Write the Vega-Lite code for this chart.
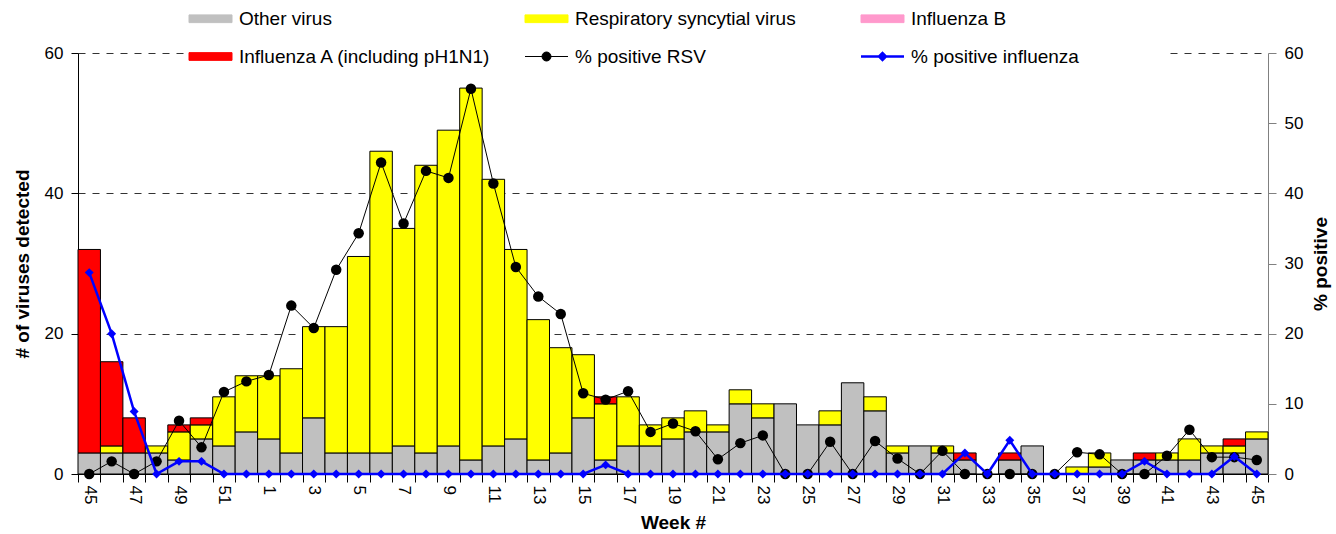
{
  "$schema": "https://vega.github.io/schema/vega-lite/v6.json",
  "width": 1190,
  "height": 421,
  "autosize": {"type": "none"},
  "padding": {"left": 78, "top": 53, "right": 68, "bottom": 60},
  "background": "white",
  "config": {
    "font": "Liberation Sans",
    "view": {"stroke": null},
    "axis": {"labelColor": "black", "titleColor": "black", "labelFont": "Liberation Sans", "titleFont": "Liberation Sans"}
  },
  "datasets": {
    "stackOrder": [
      {"series": "Other virus", "ord": 0},
      {"series": "Respiratory syncytial virus", "ord": 1},
      {"series": "Influenza B", "ord": 2},
      {"series": "Influenza A (including pH1N1)", "ord": 3}
    ]
  },
  "data": {
    "values": [
      {"week": "2009-45", "Other virus": 3, "Respiratory syncytial virus": 0, "Influenza B": 0, "Influenza A (including pH1N1)": 29, "% positive RSV": 0, "% positive influenza": 28.7},
      {"week": "2009-46", "Other virus": 3, "Respiratory syncytial virus": 1, "Influenza B": 0, "Influenza A (including pH1N1)": 12, "% positive RSV": 1.8, "% positive influenza": 20},
      {"week": "2009-47", "Other virus": 3, "Respiratory syncytial virus": 0, "Influenza B": 0, "Influenza A (including pH1N1)": 5, "% positive RSV": 0, "% positive influenza": 8.9},
      {"week": "2009-48", "Other virus": 3, "Respiratory syncytial virus": 1, "Influenza B": 0, "Influenza A (including pH1N1)": 0, "% positive RSV": 1.8, "% positive influenza": 0},
      {"week": "2009-49", "Other virus": 2, "Respiratory syncytial virus": 4, "Influenza B": 0, "Influenza A (including pH1N1)": 1, "% positive RSV": 7.6, "% positive influenza": 1.8},
      {"week": "2009-50", "Other virus": 5, "Respiratory syncytial virus": 2, "Influenza B": 0, "Influenza A (including pH1N1)": 1, "% positive RSV": 3.8, "% positive influenza": 1.8},
      {"week": "2009-51", "Other virus": 4, "Respiratory syncytial virus": 7, "Influenza B": 0, "Influenza A (including pH1N1)": 0, "% positive RSV": 11.7, "% positive influenza": 0},
      {"week": "2009-52", "Other virus": 6, "Respiratory syncytial virus": 8, "Influenza B": 0, "Influenza A (including pH1N1)": 0, "% positive RSV": 13.2, "% positive influenza": 0},
      {"week": "2010-1", "Other virus": 5, "Respiratory syncytial virus": 9, "Influenza B": 0, "Influenza A (including pH1N1)": 0, "% positive RSV": 14.1, "% positive influenza": 0},
      {"week": "2010-2", "Other virus": 3, "Respiratory syncytial virus": 12, "Influenza B": 0, "Influenza A (including pH1N1)": 0, "% positive RSV": 24.0, "% positive influenza": 0},
      {"week": "2010-3", "Other virus": 8, "Respiratory syncytial virus": 13, "Influenza B": 0, "Influenza A (including pH1N1)": 0, "% positive RSV": 20.8, "% positive influenza": 0},
      {"week": "2010-4", "Other virus": 3, "Respiratory syncytial virus": 18, "Influenza B": 0, "Influenza A (including pH1N1)": 0, "% positive RSV": 29.1, "% positive influenza": 0},
      {"week": "2010-5", "Other virus": 3, "Respiratory syncytial virus": 28, "Influenza B": 0, "Influenza A (including pH1N1)": 0, "% positive RSV": 34.3, "% positive influenza": 0},
      {"week": "2010-6", "Other virus": 3, "Respiratory syncytial virus": 43, "Influenza B": 0, "Influenza A (including pH1N1)": 0, "% positive RSV": 44.4, "% positive influenza": 0},
      {"week": "2010-7", "Other virus": 4, "Respiratory syncytial virus": 31, "Influenza B": 0, "Influenza A (including pH1N1)": 0, "% positive RSV": 35.7, "% positive influenza": 0},
      {"week": "2010-8", "Other virus": 3, "Respiratory syncytial virus": 41, "Influenza B": 0, "Influenza A (including pH1N1)": 0, "% positive RSV": 43.2, "% positive influenza": 0},
      {"week": "2010-9", "Other virus": 4, "Respiratory syncytial virus": 45, "Influenza B": 0, "Influenza A (including pH1N1)": 0, "% positive RSV": 42.2, "% positive influenza": 0},
      {"week": "2010-10", "Other virus": 2, "Respiratory syncytial virus": 53, "Influenza B": 0, "Influenza A (including pH1N1)": 0, "% positive RSV": 54.9, "% positive influenza": 0},
      {"week": "2010-11", "Other virus": 4, "Respiratory syncytial virus": 38, "Influenza B": 0, "Influenza A (including pH1N1)": 0, "% positive RSV": 41.4, "% positive influenza": 0},
      {"week": "2010-12", "Other virus": 5, "Respiratory syncytial virus": 27, "Influenza B": 0, "Influenza A (including pH1N1)": 0, "% positive RSV": 29.5, "% positive influenza": 0},
      {"week": "2010-13", "Other virus": 2, "Respiratory syncytial virus": 20, "Influenza B": 0, "Influenza A (including pH1N1)": 0, "% positive RSV": 25.3, "% positive influenza": 0},
      {"week": "2010-14", "Other virus": 3, "Respiratory syncytial virus": 15, "Influenza B": 0, "Influenza A (including pH1N1)": 0, "% positive RSV": 22.8, "% positive influenza": 0},
      {"week": "2010-15", "Other virus": 8, "Respiratory syncytial virus": 9, "Influenza B": 0, "Influenza A (including pH1N1)": 0, "% positive RSV": 11.5, "% positive influenza": 0},
      {"week": "2010-16", "Other virus": 2, "Respiratory syncytial virus": 8, "Influenza B": 0, "Influenza A (including pH1N1)": 1, "% positive RSV": 10.6, "% positive influenza": 1.3},
      {"week": "2010-17", "Other virus": 4, "Respiratory syncytial virus": 7, "Influenza B": 0, "Influenza A (including pH1N1)": 0, "% positive RSV": 11.8, "% positive influenza": 0},
      {"week": "2010-18", "Other virus": 4, "Respiratory syncytial virus": 3, "Influenza B": 0, "Influenza A (including pH1N1)": 0, "% positive RSV": 6.0, "% positive influenza": 0},
      {"week": "2010-19", "Other virus": 5, "Respiratory syncytial virus": 3, "Influenza B": 0, "Influenza A (including pH1N1)": 0, "% positive RSV": 7.2, "% positive influenza": 0},
      {"week": "2010-20", "Other virus": 6, "Respiratory syncytial virus": 3, "Influenza B": 0, "Influenza A (including pH1N1)": 0, "% positive RSV": 6.1, "% positive influenza": 0},
      {"week": "2010-21", "Other virus": 6, "Respiratory syncytial virus": 1, "Influenza B": 0, "Influenza A (including pH1N1)": 0, "% positive RSV": 2.1, "% positive influenza": 0},
      {"week": "2010-22", "Other virus": 10, "Respiratory syncytial virus": 2, "Influenza B": 0, "Influenza A (including pH1N1)": 0, "% positive RSV": 4.4, "% positive influenza": 0},
      {"week": "2010-23", "Other virus": 8, "Respiratory syncytial virus": 2, "Influenza B": 0, "Influenza A (including pH1N1)": 0, "% positive RSV": 5.5, "% positive influenza": 0},
      {"week": "2010-24", "Other virus": 10, "Respiratory syncytial virus": 0, "Influenza B": 0, "Influenza A (including pH1N1)": 0, "% positive RSV": 0, "% positive influenza": 0},
      {"week": "2010-25", "Other virus": 7, "Respiratory syncytial virus": 0, "Influenza B": 0, "Influenza A (including pH1N1)": 0, "% positive RSV": 0, "% positive influenza": 0},
      {"week": "2010-26", "Other virus": 7, "Respiratory syncytial virus": 2, "Influenza B": 0, "Influenza A (including pH1N1)": 0, "% positive RSV": 4.6, "% positive influenza": 0},
      {"week": "2010-27", "Other virus": 13, "Respiratory syncytial virus": 0, "Influenza B": 0, "Influenza A (including pH1N1)": 0, "% positive RSV": 0, "% positive influenza": 0},
      {"week": "2010-28", "Other virus": 9, "Respiratory syncytial virus": 2, "Influenza B": 0, "Influenza A (including pH1N1)": 0, "% positive RSV": 4.7, "% positive influenza": 0},
      {"week": "2010-29", "Other virus": 3, "Respiratory syncytial virus": 1, "Influenza B": 0, "Influenza A (including pH1N1)": 0, "% positive RSV": 2.2, "% positive influenza": 0},
      {"week": "2010-30", "Other virus": 4, "Respiratory syncytial virus": 0, "Influenza B": 0, "Influenza A (including pH1N1)": 0, "% positive RSV": 0, "% positive influenza": 0},
      {"week": "2010-31", "Other virus": 3, "Respiratory syncytial virus": 1, "Influenza B": 0, "Influenza A (including pH1N1)": 0, "% positive RSV": 3.3, "% positive influenza": 0},
      {"week": "2010-32", "Other virus": 2, "Respiratory syncytial virus": 0, "Influenza B": 0, "Influenza A (including pH1N1)": 1, "% positive RSV": 0, "% positive influenza": 3.0},
      {"week": "2010-33", "Other virus": 0, "Respiratory syncytial virus": 0, "Influenza B": 0, "Influenza A (including pH1N1)": 0, "% positive RSV": 0, "% positive influenza": 0},
      {"week": "2010-34", "Other virus": 2, "Respiratory syncytial virus": 0, "Influenza B": 0, "Influenza A (including pH1N1)": 1, "% positive RSV": 0, "% positive influenza": 4.8},
      {"week": "2010-35", "Other virus": 4, "Respiratory syncytial virus": 0, "Influenza B": 0, "Influenza A (including pH1N1)": 0, "% positive RSV": 0, "% positive influenza": 0},
      {"week": "2010-36", "Other virus": 0, "Respiratory syncytial virus": 0, "Influenza B": 0, "Influenza A (including pH1N1)": 0, "% positive RSV": 0, "% positive influenza": 0},
      {"week": "2010-37", "Other virus": 0, "Respiratory syncytial virus": 1, "Influenza B": 0, "Influenza A (including pH1N1)": 0, "% positive RSV": 3.1, "% positive influenza": 0},
      {"week": "2010-38", "Other virus": 1, "Respiratory syncytial virus": 2, "Influenza B": 0, "Influenza A (including pH1N1)": 0, "% positive RSV": 2.8, "% positive influenza": 0},
      {"week": "2010-39", "Other virus": 2, "Respiratory syncytial virus": 0, "Influenza B": 0, "Influenza A (including pH1N1)": 0, "% positive RSV": 0, "% positive influenza": 0},
      {"week": "2010-40", "Other virus": 2, "Respiratory syncytial virus": 0, "Influenza B": 0, "Influenza A (including pH1N1)": 1, "% positive RSV": 0, "% positive influenza": 1.8},
      {"week": "2010-41", "Other virus": 2, "Respiratory syncytial virus": 1, "Influenza B": 0, "Influenza A (including pH1N1)": 0, "% positive RSV": 2.6, "% positive influenza": 0},
      {"week": "2010-42", "Other virus": 2, "Respiratory syncytial virus": 3, "Influenza B": 0, "Influenza A (including pH1N1)": 0, "% positive RSV": 6.3, "% positive influenza": 0},
      {"week": "2010-43", "Other virus": 3, "Respiratory syncytial virus": 1, "Influenza B": 0, "Influenza A (including pH1N1)": 0, "% positive RSV": 2.4, "% positive influenza": 0},
      {"week": "2010-44", "Other virus": 3, "Respiratory syncytial virus": 1, "Influenza B": 0, "Influenza A (including pH1N1)": 1, "% positive RSV": 2.4, "% positive influenza": 2.5},
      {"week": "2010-45", "Other virus": 5, "Respiratory syncytial virus": 1, "Influenza B": 0, "Influenza A (including pH1N1)": 0, "% positive RSV": 2.0, "% positive influenza": 0}
    ]
  },
  "encoding": {
    "x": {
      "field": "week",
      "type": "ordinal",
      "sort": null,
      "scale": {"paddingInner": 0, "paddingOuter": 0},
      "axis": {
        "title": "Week #",
        "titleFontSize": 19,
        "titleFontWeight": "bold",
        "titlePadding": 10,
        "labelAngle": 90,
        "labelFontSize": 17,
        "labelPadding": 3,
        "labelExpr": "toNumber(split(datum.value, '-')[1]) % 2 === 1 ? split(datum.value, '-')[1] : ''",
        "tickBand": "extent",
        "tickSize": 8,
        "tickColor": "black",
        "domainColor": "black",
        "grid": false
      }
    },
    "color": {
      "field": "series",
      "type": "nominal",
      "scale": {
        "domain": ["Other virus", "Respiratory syncytial virus", "Influenza B", "Influenza A (including pH1N1)", "% positive RSV", "% positive influenza"],
        "range": ["#C0C0C0", "#FFFF00", "#FF99CC", "#FF0000", "#000000", "#0000FF"]
      },
      "legend": {
        "title": "\u2003",
        "titleOrient": "right",
        "titlePadding": 85,
        "titleFontSize": 10,
        "orient": "none",
        "legendX": 118,
        "legendY": -49,
        "direction": "horizontal",
        "columns": 3,
        "gridAlign": "all",
        "columnPadding": 28,
        "rowPadding": 18,
        "padding": 5,
        "fillColor": "white",
        "labelFontSize": 19,
        "labelFont": "Liberation Sans",
        "labelColor": "black",
        "labelOffset": 19,
        "labelLimit": 400,
        "symbolSize": 400,
        "encode": {
          "symbols": {
            "update": {
              "shape": {"signal": "datum.value === '% positive RSV' ? 'M-1,0H1M-0.21,0A0.21,0.21,0,1,1,0.21,0A0.21,0.21,0,1,1,-0.21,0Z' : datum.value === '% positive influenza' ? 'M-1,0H1M-0.16,0L0,-0.16L0.16,0L0,0.16Z' : 'M-1,-0.18H1V0.18H-1Z'"},
              "fill": {"scale": "color", "field": "value"},
              "stroke": {"signal": "datum.value === '% positive influenza' ? '#0000FF' : '#000000'"},
              "strokeWidth": {"signal": "datum.value === '% positive influenza' ? 2.5 : 1"},
              "size": {"value": 1849},
              "opacity": {"value": 1},
              "fillOpacity": {"value": 1},
              "strokeOpacity": {"value": 1}
            }
          }
        }
      }
    }
  },
  "layer": [
    {
      "transform": [
        {"fold": ["Other virus", "Respiratory syncytial virus", "Influenza B", "Influenza A (including pH1N1)"], "as": ["series", "n"]},
        {"lookup": "series", "from": {"data": {"name": "stackOrder"}, "key": "series", "fields": ["ord"]}}
      ],
      "mark": {"type": "bar", "stroke": "black"},
      "encoding": {
        "y": {
          "field": "n",
          "type": "quantitative",
          "scale": {"domain": [0, 60], "nice": false},
          "axis": {
            "title": "# of viruses detected",
            "titleFontSize": 19,
            "titleFontWeight": "bold",
            "titlePadding": 12,
            "values": [0, 20, 40, 60],
            "labelFontSize": 17,
            "labelPadding": 8,
            "tickSize": 7,
            "tickColor": "black",
            "domainColor": "black",
            "grid": true,
            "gridColor": "#333333",
            "gridDash": [7, 7],
            "gridWidth": 1
          }
        },
        "order": {"field": "ord", "type": "quantitative", "sort": "ascending"},
        "strokeWidth": {"condition": {"test": "datum.n > 0", "value": 1}, "value": 0}
      }
    },
    {
      "transform": [
        {"fold": ["% positive RSV"], "as": ["series", "pct"]}
      ],
      "mark": {"type": "line", "strokeWidth": 1, "point": {"filled": true, "size": 110, "shape": "circle"}},
      "encoding": {
        "y": {
          "field": "pct",
          "type": "quantitative",
          "scale": {"domain": [0, 60], "nice": false},
          "axis": {
            "orient": "right",
            "title": "% positive",
            "titleFontSize": 19,
            "titleFontWeight": "bold",
            "titleAngle": 270,
            "titlePadding": 28,
            "values": [0, 10, 20, 30, 40, 50, 60],
            "labelFontSize": 17,
            "labelPadding": 8,
            "tickSize": 8,
            "tickColor": "#808080",
            "domainColor": "#808080",
            "grid": false
          }
        }
      }
    },
    {
      "transform": [
        {"fold": ["% positive influenza"], "as": ["series", "pct"]}
      ],
      "mark": {"type": "line", "strokeWidth": 2.5, "point": {"filled": true, "size": 80, "shape": "diamond"}},
      "encoding": {
        "y": {
          "field": "pct",
          "type": "quantitative",
          "scale": {"domain": [0, 60], "nice": false},
          "axis": null
        }
      }
    }
  ],
  "resolve": {"scale": {"y": "independent"}, "axis": {"y": "independent"}}
}
